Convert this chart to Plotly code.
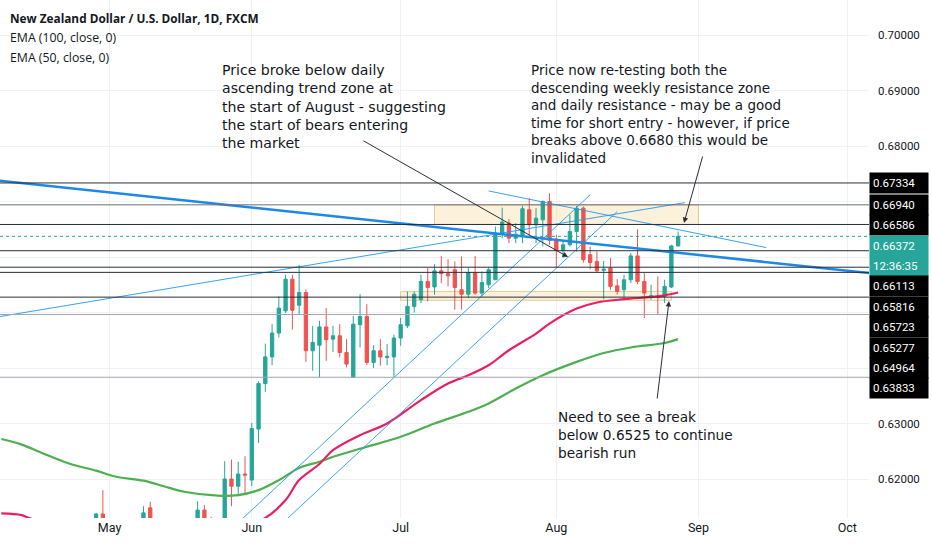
import plotly.graph_objects as go

# NZDUSD daily candles (FXCM)
dates = [
    "2020-04-29", "2020-04-30", "2020-05-08", "2020-05-11", "2020-05-20", "2020-05-21",
    "2020-05-22", "2020-05-25", "2020-05-26", "2020-05-27", "2020-05-28", "2020-05-29",
    "2020-06-01", "2020-06-02", "2020-06-03", "2020-06-04", "2020-06-05", "2020-06-08",
    "2020-06-09", "2020-06-10", "2020-06-11", "2020-06-12", "2020-06-15", "2020-06-16",
    "2020-06-17", "2020-06-18", "2020-06-19", "2020-06-22", "2020-06-23", "2020-06-24",
    "2020-06-25", "2020-06-26", "2020-06-29", "2020-06-30",
    "2020-07-01", "2020-07-02", "2020-07-03", "2020-07-06", "2020-07-07", "2020-07-08",
    "2020-07-09", "2020-07-10", "2020-07-13", "2020-07-14", "2020-07-15", "2020-07-16",
    "2020-07-17", "2020-07-20", "2020-07-21", "2020-07-22", "2020-07-23", "2020-07-24",
    "2020-07-27", "2020-07-28", "2020-07-29", "2020-07-30", "2020-07-31",
    "2020-08-03", "2020-08-04", "2020-08-05", "2020-08-06", "2020-08-07", "2020-08-10",
    "2020-08-11", "2020-08-12", "2020-08-13", "2020-08-14", "2020-08-17", "2020-08-18",
    "2020-08-19", "2020-08-20", "2020-08-21", "2020-08-24", "2020-08-25", "2020-08-26",
    "2020-08-27",
]
opens = [
    0.6090, 0.6137, 0.6100, 0.6148, 0.6090, 0.6144, 0.6090, 0.6062, 0.6100, 0.6200, 0.6187, 0.6209,
    0.6198, 0.6290, 0.6372, 0.6420, 0.6463, 0.6503, 0.6560, 0.6513, 0.6536, 0.6431, 0.6441, 0.6474,
    0.6452, 0.6458, 0.6428, 0.6383, 0.6478, 0.6493, 0.6410, 0.6431, 0.6419, 0.6420,
    0.6454, 0.6476, 0.6511, 0.6523, 0.6556, 0.6546, 0.6575, 0.6570, 0.6577, 0.6541, 0.6533, 0.6572,
    0.6535, 0.6550, 0.6559, 0.6643, 0.6661, 0.6634, 0.6637, 0.6685, 0.6658, 0.6667, 0.6700,
    0.6632, 0.6612, 0.6622, 0.6646, 0.6688, 0.6604, 0.6592, 0.6576, 0.6580, 0.6548, 0.6541, 0.6559,
    0.6602, 0.6556, 0.6528, 0.6529, 0.6529, 0.6546, 0.6620,
]
highs = [
    0.6139, 0.6180, 0.6151, 0.6159, 0.6160, 0.6153, 0.6132, 0.6110, 0.6232, 0.6235, 0.6231, 0.6241,
    0.6301, 0.6376, 0.6444, 0.6479, 0.6529, 0.6568, 0.6568, 0.6586, 0.6542, 0.6476, 0.6485, 0.6508,
    0.6476, 0.6479, 0.6452, 0.6494, 0.6533, 0.6515, 0.6441, 0.6452, 0.6443, 0.6460,
    0.6490, 0.6538, 0.6538, 0.6568, 0.6580, 0.6587, 0.6602, 0.6596, 0.6592, 0.6601, 0.6581, 0.6602,
    0.6574, 0.6581, 0.6655, 0.6689, 0.6668, 0.6661, 0.6692, 0.6706, 0.6688, 0.6702, 0.6715,
    0.6640, 0.6629, 0.6676, 0.6692, 0.6691, 0.6619, 0.6610, 0.6593, 0.6598, 0.6560, 0.6568, 0.6607,
    0.6650, 0.6571, 0.6550, 0.6565, 0.6559, 0.6622, 0.6646,
]
lows = [
    0.6075, 0.6050, 0.6085, 0.6060, 0.6085, 0.6070, 0.6050, 0.6050, 0.6092, 0.6151, 0.6169, 0.6171,
    0.6187, 0.6265, 0.6357, 0.6405, 0.6455, 0.6499, 0.6469, 0.6496, 0.6411, 0.6395, 0.6383, 0.6413,
    0.6429, 0.6419, 0.6401, 0.6383, 0.6437, 0.6405, 0.6400, 0.6404, 0.6405, 0.6384,
    0.6440, 0.6472, 0.6500, 0.6517, 0.6520, 0.6532, 0.6553, 0.6547, 0.6505, 0.6505, 0.6526, 0.6532,
    0.6529, 0.6544, 0.6559, 0.6634, 0.6625, 0.6625, 0.6625, 0.6640, 0.6625, 0.6619, 0.6622,
    0.6581, 0.6598, 0.6619, 0.6610, 0.6590, 0.6578, 0.6572, 0.6524, 0.6541, 0.6532, 0.6527, 0.6553,
    0.6551, 0.6490, 0.6523, 0.6496, 0.6517, 0.6544, 0.6619,
]
closes = [
    0.6137, 0.6070, 0.6139, 0.6070, 0.6144, 0.6085, 0.6060, 0.6098, 0.6200, 0.6187, 0.6209, 0.6207,
    0.6291, 0.6372, 0.6420, 0.6463, 0.6508, 0.6560, 0.6504, 0.6536, 0.6431, 0.6446, 0.6474, 0.6451,
    0.6458, 0.6428, 0.6407, 0.6479, 0.6493, 0.6410, 0.6431, 0.6420, 0.6421, 0.6454,
    0.6478, 0.6511, 0.6533, 0.6556, 0.6545, 0.6575, 0.6570, 0.6566, 0.6545, 0.6533, 0.6572, 0.6535,
    0.6554, 0.6577, 0.6643, 0.6663, 0.6634, 0.6641, 0.6687, 0.6658, 0.6670, 0.6700, 0.6630,
    0.6612, 0.6622, 0.6646, 0.6688, 0.6595, 0.6590, 0.6575, 0.6578, 0.6547, 0.6538, 0.6559, 0.6602,
    0.6556, 0.6535, 0.6530, 0.6527, 0.6547, 0.6620, 0.66372,
]

# EMA readings (sampled along each curve)
ema100_dates = ["2020-04-09", "2020-04-14", "2020-04-17", "2020-04-23", "2020-04-29", "2020-05-04",
                "2020-05-08", "2020-05-13", "2020-05-18", "2020-05-25", "2020-05-28", "2020-06-02",
                "2020-06-05", "2020-06-10", "2020-06-15", "2020-06-17", "2020-06-24", "2020-07-01",
                "2020-07-08", "2020-07-15", "2020-07-20", "2020-07-24", "2020-07-30", "2020-08-06",
                "2020-08-12", "2020-08-18", "2020-08-25", "2020-08-27"]
ema100 = [0.6272, 0.6262, 0.6247, 0.6228, 0.6215, 0.6204, 0.6197, 0.6187, 0.6177, 0.6170, 0.6171,
          0.6180, 0.6198, 0.6220, 0.6231, 0.6240, 0.6258, 0.6276, 0.6300, 0.6321, 0.6336, 0.6363,
          0.6387, 0.6411, 0.6427, 0.6437, 0.6445, 0.6452]
ema50_dates = ["2020-04-09", "2020-04-14", "2020-04-15", "2020-04-22", "2020-05-04", "2020-05-18",
               "2020-05-27", "2020-06-03", "2020-06-08", "2020-06-10", "2020-06-15", "2020-06-17",
               "2020-06-23", "2020-06-29", "2020-07-06", "2020-07-10", "2020-07-15", "2020-07-20",
               "2020-07-23", "2020-07-29", "2020-07-31", "2020-08-06", "2020-08-11", "2020-08-17",
               "2020-08-21", "2020-08-25", "2020-08-27"]
ema50 = [0.6138, 0.6135, 0.6130, 0.6112, 0.6100, 0.6098, 0.6110, 0.6130, 0.6162, 0.6198, 0.6227,
         0.6252, 0.6279, 0.6300, 0.6342, 0.6372, 0.6387, 0.6405, 0.6432, 0.6462, 0.6480, 0.6507,
         0.6518, 0.6524, 0.6528, 0.6531, 0.6536]

# drawings
levels = [0.67334, 0.66940, 0.66586, 0.66113, 0.65816, 0.65723, 0.65277, 0.64964, 0.63833]
current_price = 0.66372
timer_text = "12:36:35"
thick_trend = (["2020-04-06", "2020-10-12"], [0.67410, 0.65636])
thin_trends = [
    (["2020-04-06", "2020-08-28"], [0.6487, 0.6698]),
    (["2020-07-20", "2020-09-15"], [0.6719, 0.6617]),
    (["2020-05-27", "2020-08-10"], [0.6110, 0.6712]),
    (["2020-06-04", "2020-08-14"], [0.6103, 0.6682]),
]
zones = [
    ("2020-07-08", "2020-09-01", 0.66586, 0.66940),
    ("2020-07-01", "2020-08-26", 0.6522, 0.6538),
]
month_ticks = ["2020-05-01", "2020-06-01", "2020-07-01", "2020-08-03", "2020-09-01", "2020-10-01"]
month_labels = ["May", "Jun", "Jul", "Aug", "Sep", "Oct"]
price_ticks = [0.62, 0.63, 0.64, 0.65, 0.66, 0.67, 0.68, 0.69, 0.70]
# ticks hidden behind the drawing labels on the price scale
covered_ticks = {0.64, 0.65, 0.66, 0.67}

note_1 = ("Price broke below daily<br>ascending trend zone at<br>the start of August - suggesting"
          "<br>the start of bears entering<br>the market")
note_2 = ("Price now re-testing both the<br>descending weekly resistance zone<br>"
          "and daily resistance - may be a good<br>time for short entry - however, if price"
          "<br>breaks above 0.6680 this would be<br>invalidated")
note_3 = "Need to see a break<br>below 0.6525 to continue<br>bearish run"

# plot geometry (pixels)
W, H = 869, 518
Y_TOP, Y_BOT = 0.706306, 0.612973
UP, DOWN = "#26a69a", "#ef5350"
INK = "#131722"


def xp(px):
    return px / W


def yp(py):
    return 1 - py / H


def price_px(p):
    return (Y_TOP - p) / (Y_TOP - Y_BOT) * H


fig = go.Figure()

fig.add_trace(go.Scatter(x=ema100_dates, y=ema100, mode="lines",
                         line=dict(color="#4caf50", width=2.2, shape="spline"), hoverinfo="skip"))
fig.add_trace(go.Scatter(x=ema50_dates, y=ema50, mode="lines",
                         line=dict(color="#e91e63", width=2.2, shape="spline"), hoverinfo="skip"))

fig.add_trace(go.Candlestick(
    x=dates, open=opens, high=highs, low=lows, close=closes,
    increasing=dict(line=dict(color=UP, width=1), fillcolor=UP),
    decreasing=dict(line=dict(color=DOWN, width=1), fillcolor=DOWN),
    hoverinfo="skip",
))

for xs, ys in thin_trends:
    fig.add_trace(go.Scatter(x=xs, y=ys, mode="lines", line=dict(color="#2196f3", width=0.9),
                             hoverinfo="skip"))
fig.add_trace(go.Scatter(x=thick_trend[0], y=thick_trend[1], mode="lines",
                         line=dict(color="#1e88e5", width=2.5), hoverinfo="skip"))

# zones and horizontal levels
for x0, x1, y0, y1 in zones:
    fig.add_shape(type="rect", xref="x", yref="y", x0=x0, x1=x1, y0=y0, y1=y1,
                  fillcolor="rgba(247, 214, 150, 0.35)",
                  line=dict(color="rgba(214, 184, 120, 0.7)", width=1), layer="between")

faint = {0.64964, 0.63833}
soft = {0.66940}
for lv in levels:
    col = "#a3a6af" if lv in faint else ("#6a6d78" if lv in soft else "#2a2e39")
    fig.add_shape(type="line", xref="paper", yref="y", x0=0, x1=1, y0=lv, y1=lv,
                  line=dict(color=col, width=1))
fig.add_shape(type="line", xref="paper", yref="y", x0=0, x1=1, y0=current_price, y1=current_price,
              line=dict(color=UP, width=1, dash="dot"))

# price-scale labels, stacked like the platform does
labels = [(lv, f"{lv:.5f}", "#000000") for lv in levels]
labels += [(current_price, f"{current_price:.5f}", UP), (current_price, timer_text, UP)]
labels.sort(key=lambda t: -t[0])
prev = -100
annotations = []
for p, txt, bg in labels:
    pos = max(price_px(p), prev + 20.4)
    prev = pos
    annotations.append(dict(xref="paper", yref="paper", x=1, y=yp(pos), xanchor="left",
                            yanchor="middle", text=txt, showarrow=False, align="left",
                            width=52, height=14, borderpad=3, bgcolor=bg,
                            font=dict(family="Roboto", size=11.5, color="white")))

# header
annotations.append(dict(xref="paper", yref="paper", x=xp(8), y=yp(18), xanchor="left",
                        yanchor="middle", showarrow=False,
                        text="<b>New Zealand Dollar / U.S. Dollar, 1D, FXCM</b>",
                        font=dict(family="Open Sans", size=11.8, color=INK)))
for i, t in enumerate(["EMA (100, close, 0)", "EMA (50, close, 0)"]):
    annotations.append(dict(xref="paper", yref="paper", x=xp(8), y=yp(38 + 19.5 * i),
                            xanchor="left", yanchor="middle", showarrow=False, text=t,
                            font=dict(family="Open Sans", size=12.3, color=INK)))

# notes
for txt, lx, ty, size in [(note_1, 221, 61, 14.1), (note_2, 530, 61, 13.5),
                          (note_3, 557, 408, 13.7)]:
    annotations.append(dict(xref="paper", yref="paper", x=xp(lx), y=yp(ty), xanchor="left",
                            yanchor="top", align="left", showarrow=False, text=txt,
                            borderpad=0, font=dict(family="DejaVu Sans", size=size, color=INK)))

# arrows: (head px, tail px)
for (hx, hy), (tx, ty) in [((568, 257), (362, 140)), ((684, 223), (703, 155)),
                           ((669, 301), (657, 400))]:
    annotations.append(dict(xref="paper", yref="paper", x=xp(hx), y=yp(hy), ax=tx - hx,
                            ay=ty - hy, text="", showarrow=True, arrowhead=2, arrowsize=1.1,
                            arrowwidth=1, arrowcolor="#2a2e39"))

fig.update_layout(
    width=932, height=550,
    margin=dict(l=0, r=63, t=0, b=32),
    paper_bgcolor="white", plot_bgcolor="white",
    showlegend=False, hovermode=False,
    annotations=annotations,
    font=dict(family="Roboto", color=INK),
    xaxis=dict(
        type="date",
        range=["2020-04-08 19:12", "2020-10-06 04:48"],
        rangebreaks=[dict(bounds=["sat", "mon"])],
        rangeslider=dict(visible=False),
        tickvals=month_ticks, ticktext=month_labels,
        showgrid=True, gridcolor="#eff1f5", zeroline=False,
        showline=False, ticks="", tickfont=dict(size=12.5, color=INK),
    ),
    yaxis=dict(
        side="right", range=[Y_BOT, Y_TOP],
        tickvals=price_ticks,
        ticktext=["" if t in covered_ticks else f"{t:.5f}" for t in price_ticks],
        showgrid=True, gridcolor="#eff1f5", zeroline=False, showline=False,
        ticks="", ticklabelstandoff=8, tickfont=dict(size=11.5, color=INK),
    ),
)

fig.write_html("out.html", config={"displayModeBar": False},
               post_script="document.body.style.margin = '0';")
